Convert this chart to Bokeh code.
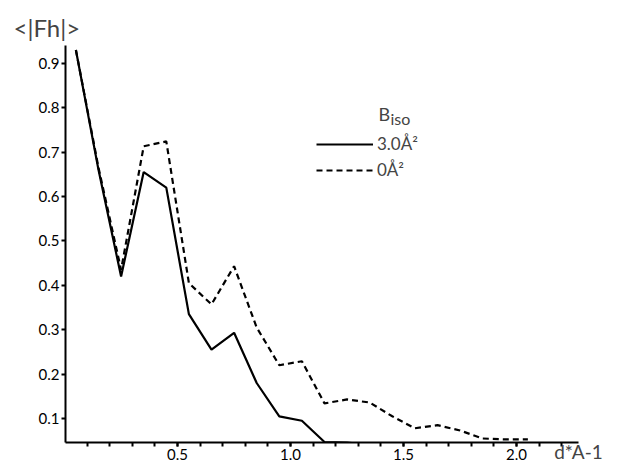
from bokeh.plotting import figure
from bokeh.models import Label, Legend, LegendItem, FixedTicker
from bokeh.embed import file_html
from bokeh.resources import INLINE

# d* (Å^-1) shell centres
x_solid = [0.05, 0.15, 0.25, 0.35, 0.45, 0.55, 0.65, 0.75, 0.85, 0.95, 1.05, 1.15, 1.25, 1.34]
y_solid = [0.93, 0.66, 0.42, 0.655, 0.62, 0.335, 0.255, 0.293, 0.18, 0.105, 0.095, 0.047, 0.046, 0.041]

x_dash = [0.05, 0.15, 0.25, 0.35, 0.45, 0.55, 0.65, 0.75, 0.85, 0.95, 1.05, 1.15, 1.25, 1.35,
          1.45, 1.55, 1.65, 1.75, 1.85, 1.95, 2.05]
y_dash = [0.93, 0.665, 0.435, 0.713, 0.724, 0.405, 0.357, 0.443, 0.305, 0.22, 0.229, 0.134, 0.143, 0.136,
          0.105, 0.078, 0.085, 0.073, 0.055, 0.053, 0.053]

y_ticks = [0.1, 0.2, 0.3, 0.4, 0.5, 0.6, 0.7, 0.8, 0.9]
x_ticks = [0.5, 1.0, 1.5, 2.0]
x_minor = [round(0.1 * i, 1) for i in range(1, 23)]

FONT = "Lato"

p = figure(width=618, height=467, output_backend="svg", toolbar_location=None,
           x_range=(0.004, 2.274), y_range=(0.046, 0.94),
           min_border_left=65, min_border_top=45, min_border_right=40, min_border_bottom=25)
p.outline_line_color = None
p.grid.visible = False
p.background_fill_color = "white"

# y-axis title drawn as the plot title, top-left
p.title.text = "<|Fh|>"
p.title.align = "left"
p.title.offset = -52
p.title.text_font = FONT
p.title.text_font_size = "24px"
p.title.text_font_style = "normal"
p.title.standoff = 8

for ax in (p.xaxis[0], p.yaxis[0]):
    ax.axis_line_width = 2
    ax.axis_line_color = "black"
    ax.major_tick_line_width = 2
    ax.minor_tick_line_width = 2
    ax.major_tick_in = 0
    ax.minor_tick_in = 0
    ax.major_label_text_font = FONT
    ax.major_label_text_font_size = "15px"
    ax.major_label_text_color = "black"

p.xaxis.ticker = FixedTicker(ticks=x_ticks, minor_ticks=x_minor)
p.xaxis.major_label_overrides = {0.5: "0.5", 1.0: "1.0", 1.5: "1.5", 2.0: "2.0"}
p.xaxis.major_tick_out = 4
p.xaxis.minor_tick_out = 4
p.xaxis.major_label_standoff = 2

xa = p.xaxis[0]
xa.axis_label = "d*A-1"
xa.axis_label_text_font = FONT
xa.axis_label_text_font_size = "19px"
xa.axis_label_text_font_style = "normal"
xa.axis_label_standoff = -23
if "axis_label_align" in xa.properties():
    xa.axis_label_align = "end"

p.yaxis.ticker = FixedTicker(ticks=y_ticks)
p.yaxis.major_tick_out = 4
p.yaxis.minor_tick_out = 0
p.yaxis.major_label_standoff = 2

r_solid = p.line(x_solid, y_solid, line_color="black", line_width=2.2)
r_dash = p.line(x_dash, y_dash, line_color="black", line_width=2.2, line_dash="6 4")

legend = Legend(items=[LegendItem(label="3.0Å²", renderers=[r_solid]),
                       LegendItem(label="0Å²", renderers=[r_dash])],
                location=(251, 262), orientation="vertical",
                glyph_width=57, glyph_height=20, label_height=20, spacing=5,
                padding=0, margin=0, label_standoff=4,
                label_text_font=FONT, label_text_font_size="17px",
                border_line_color=None, background_fill_alpha=0)
p.add_layout(legend, "center")

p.add_layout(Label(x=313, y=329, x_units="screen", y_units="screen", text="B",
                   text_font=FONT, text_font_size="18px", text_baseline="alphabetic"))
p.add_layout(Label(x=325, y=324, x_units="screen", y_units="screen", text="iso",
                   text_font=FONT, text_font_size="16px", text_baseline="alphabetic"))

open("out.html", "w").write(file_html(p, INLINE))
